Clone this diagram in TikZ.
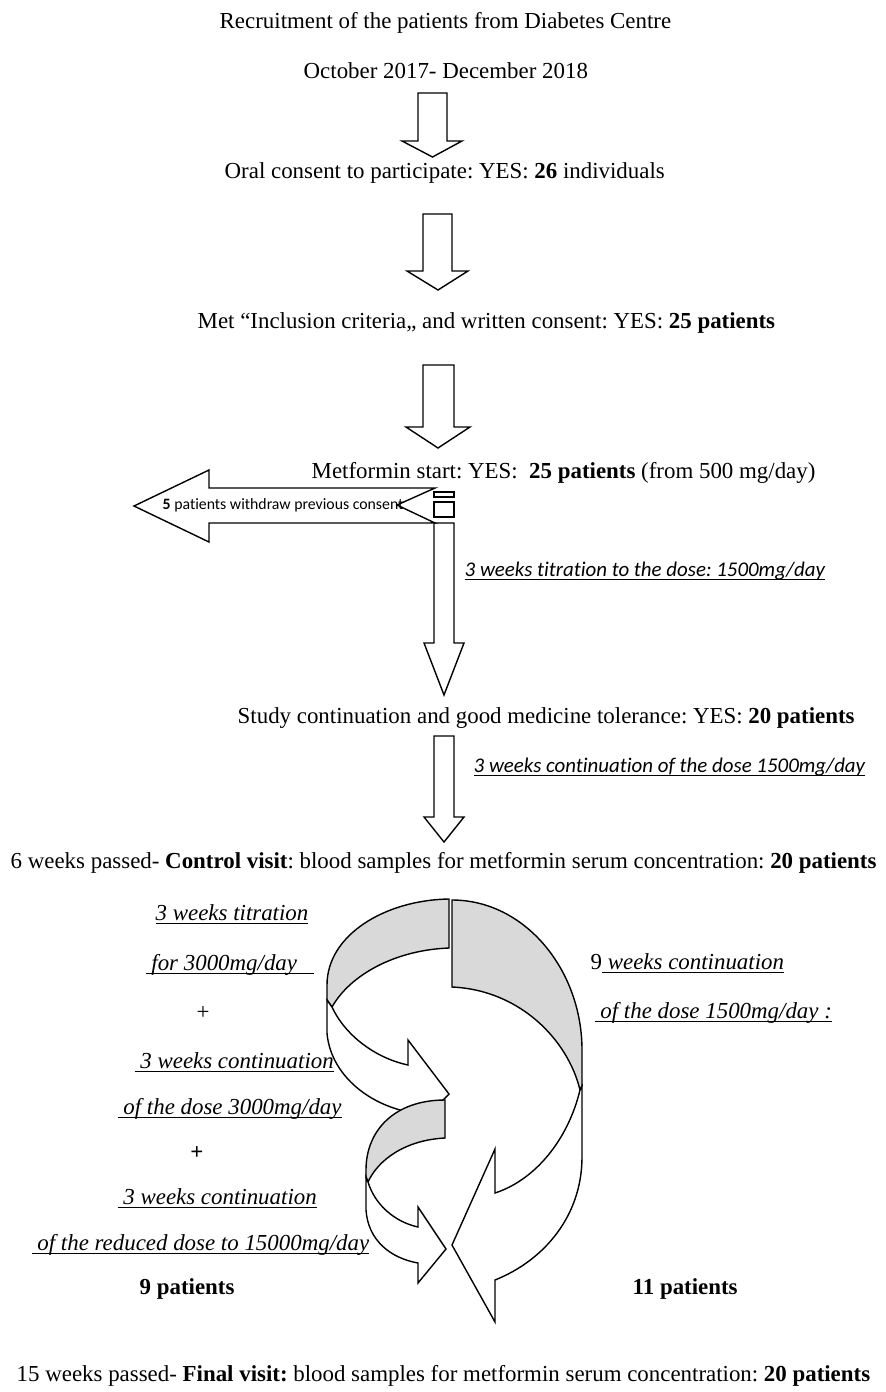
\documentclass[tikz,border=0pt]{standalone}
\usepackage{fontspec}
\setmainfont{Liberation Serif}
\newfontfamily\calfont[Ligatures=CommonOff]{Carlito}
\newcommand{\myul}[1]{\setbox0\hbox{#1}\rlap{\rule[-2.1pt]{\wd0}{0.5pt}}\box0}
\definecolor{facegray}{RGB}{217,217,217}
\frenchspacing
\begin{document}
\begin{tikzpicture}[x=0.5pt,y=-0.5pt,line width=0.7pt,line join=miter,
  txt/.style={inner sep=0pt,anchor=base west,font=\fontsize{11.45}{13}\selectfont},
  sans/.style={inner sep=0pt,anchor=base west,font=\calfont\itshape\fontsize{10.45}{12}\selectfont},
  tiny/.style={inner sep=0pt,anchor=base west,font=\calfont\fontsize{7.9}{9}\selectfont},
  blockarrow/.style={draw=black,fill=white}]
\useasboundingbox (0,0) rectangle (885,1392);

% texts
\node[txt] (t1) at (219,28) {Recruitment of the patients from Diabetes Centre};
\node[txt] (t2) at (303,78) {October 2017- December 2018};
\node[txt] (t3) at (224,178) {Oral consent to participate: YES: \textbf{26} individuals};
\node[txt] (t4) at (197,328) {Met “Inclusion criteria,, and written consent: YES: \textbf{25 patients}};
\node[txt] (t5) at (311,478) {Metformin start: YES:\ \ \textbf{25 patients} (from 500 mg/day)};
\node[sans] (s1) at (464,576) {\myul{3 weeks titration to the dose: 1500mg/day}};
\node[txt] (t6) at (237,723) {Study continuation and good medicine tolerance: YES: \textbf{20 patients}};
\node[sans] (s2) at (473,772) {\myul{3 weeks continuation of the dose 1500mg/day}};
\node[txt] (t7) at (10,868) {6 weeks passed- \textbf{Control visit}: blood samples for metformin serum concentration: \textbf{20 patients}};

\node[txt] (l1) at (155,920) {\itshape\myul{3 weeks titration}};
\node[txt] (l2) at (145,970) {\itshape\myul{\ for 3000mg/day\ \ \ }};
\node[txt,anchor=base] (l3) at (203,1019) {+};
\node[txt] (l4) at (134,1068) {\itshape\myul{\ 3 weeks continuation}};
\node[txt] (l5) at (117,1114) {\itshape\myul{\ of the dose 3000mg/day}};
\node[txt,anchor=base] (l6) at (197,1159) {\textbf{+}};
\node[txt] (l7) at (117,1204) {\itshape\myul{\ 3 weeks continuation}};
\node[txt] (l8) at (31,1250) {\itshape\myul{\ of the reduced dose to 15000mg/day}};
\node[txt] (l9) at (139,1294) {\textbf{9 patients}};

\node[txt] (r1) at (590,969) {9\itshape\myul{\ weeks continuation}};
\node[txt] (r2) at (594,1018) {\itshape\myul{\ of the dose 1500mg/day :}};
\node[txt] (r3) at (632,1294) {\textbf{11 patients}};

\node[txt] (t8) at (16,1381) {15 weeks passed- \textbf{Final visit:} blood samples for metformin serum concentration: \textbf{20 patients}};

% straight block arrows
\draw[blockarrow] (418,93) -- (447,93) -- (447,141) -- (462,141) -- (432.5,157) -- (402,141) -- (418,141) -- cycle;
\draw[blockarrow] (423,214) -- (452,214) -- (452,271) -- (468,271) -- (438,290) -- (407,271) -- (423,271) -- cycle;
\draw[blockarrow] (423,365) -- (454,365) -- (454,427) -- (470,427) -- (438,448) -- (406,427) -- (423,427) -- cycle;
\draw[blockarrow] (434,492) rectangle (454,497);
\draw[blockarrow] (434,502) rectangle (454,517);
\draw[blockarrow] (434,523) -- (454,523) -- (454,643) -- (464,643) -- (444,695) -- (424,643) -- (434,643) -- cycle;
\draw[blockarrow] (434,736) -- (454,736) -- (454,817) -- (464,817) -- (444,842) -- (424,817) -- (434,817) -- cycle;

% left notched arrow
\draw[blockarrow] (435,488) -- (209,488) -- (209,470) -- (134,506) -- (209,542) -- (209,523) -- (435,523) -- (397,505) -- cycle;
\node[tiny] (w) at (162,509) {\textbf{5} patients withdraw previous consent};

% big curved arrow (11 patients)
\filldraw[fill=facegray] (452,900) .. controls (525,900) and (582,970) .. (582,1050) -- (582,1086) -- (580,1090) .. controls (568,1040) and (520,990) .. (452,987) -- cycle;
\filldraw[fill=white] (582,1086) -- (582,1157) .. controls (582,1215) and (545,1260) .. (495,1280) -- (495,1322) -- (452,1245) -- (495,1149) -- (495,1193) .. controls (535,1180) and (568,1140) .. (580,1090) -- cycle;

% upper small curved arrow
\filldraw[fill=facegray] (449,899) .. controls (385,900) and (327,935) .. (327,985) -- (327,1000) -- (332,1007) .. controls (350,975) and (395,950) .. (449,948) -- cycle;
\filldraw[fill=white] (327,1000) -- (327,1033) .. controls (330,1070) and (362,1102) .. (408,1112) -- (408,1135) -- (449,1094) -- (408,1040) -- (408,1065) .. controls (375,1058) and (345,1035) .. (332,1007) -- cycle;

% lower small curved arrow
\filldraw[fill=facegray] (445,1100) .. controls (395,1100) and (366,1130) .. (366,1170) -- (366,1177) -- (368,1182) .. controls (378,1160) and (405,1140) .. (445,1138) -- cycle;
\filldraw[fill=white] (366,1177) -- (366,1210) .. controls (368,1240) and (390,1258) .. (418,1263) -- (418,1283) -- (446,1249) -- (418,1207) -- (418,1227) .. controls (395,1222) and (375,1205) .. (368,1182) -- cycle;
\end{tikzpicture}
\end{document}
